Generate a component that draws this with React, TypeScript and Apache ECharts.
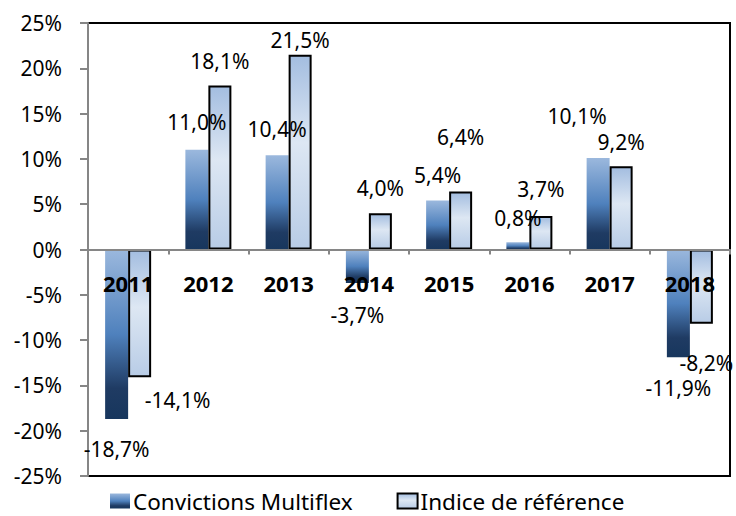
import React, { useEffect, useRef } from 'react';
import * as echarts from 'echarts';

const categories = ['2011', '2012', '2013', '2014', '2015', '2016', '2017', '2018'];
const fundValues = [-18.7, 11.0, 10.4, -3.7, 5.4, 0.8, 10.1, -11.9];
const indexValues = [-14.1, 18.1, 21.5, 4.0, 6.4, 3.7, 9.2, -8.2];
const seriesNames = ['Convictions Multiflex', 'Indice de référence'];
const yTicks = { min: -25, max: 25, interval: 5 };

// label nudges (styling only)
const fundLabelOffsets = [[0, 15], [0, -12], [0, -11], [0, 16], [0, -10], [0, -9], [-21, -26], [0, 15]];
const indexLabelOffsets = [[38, 7], [0, -9], [0, 1], [0, -10], [0, -39], [0, -11], [0, -9], [5, 24]];

const FONT = 'Noto Sans';
const fmt = (v: number) => v.toFixed(1).replace('.', ',') + '%';

export default function App() {
  const ref = useRef<HTMLDivElement>(null);
  useEffect(() => {
    if (!ref.current) return;
    const chart = echarts.init(ref.current, undefined, { renderer: 'svg' });
    const darkGrad = new echarts.graphic.LinearGradient(0, 0, 0, 1, [
      { offset: 0, color: '#9bb8dd' },
      { offset: 0.5, color: '#4f81bd' },
      { offset: 0.82, color: '#1f3b63' },
      { offset: 1, color: '#17365d' },
    ]);
    const lightGrad = new echarts.graphic.LinearGradient(0, 0, 0, 1, [
      { offset: 0, color: '#a3bde0' },
      { offset: 0.45, color: '#dde7f3' },
      { offset: 1, color: '#b8cce6' },
    ]);
    const mk = (vals: number[], offs: number[][]) =>
      vals.map((v, i) => ({
        value: v,
        label: { position: v < 0 ? 'bottom' : 'top', offset: offs[i] },
      }));
    const labelStyle = {
      show: true,
      formatter: (p: any) => fmt(p.value),
      fontFamily: FONT,
      fontSize: 21,
      color: '#000',
    };
    const gridTop = 23;
    const gridBottom = 40;
    const plotH = 516 - gridTop - gridBottom;
    const zeroFromBottom = (plotH * (0 - yTicks.min)) / (yTicks.max - yTicks.min);
    chart.setOption({
      animation: false,
      backgroundColor: '#fff',
      grid: {
        left: 88,
        right: 6,
        top: gridTop,
        bottom: gridBottom,
        show: true,
        borderColor: '#000',
        borderWidth: 2,
        backgroundColor: 'transparent',
      },
      legend: {
        top: 489,
        left: 110,
        padding: 0,
        itemWidth: 20,
        itemHeight: 15,
        itemGap: 44,
        icon: 'rect',
        textStyle: {
          fontFamily: FONT,
          fontSize: 22.5,
          lineHeight: 24,
          color: '#000',
          padding: [0, 0, 0, -2],
        },
        data: seriesNames,
      },
      xAxis: {
        type: 'category',
        data: categories,
        z: 10,
        position: 'bottom',
        offset: -zeroFromBottom,
        axisLine: { onZero: false, lineStyle: { color: '#868686', width: 2 } },
        axisTick: { show: true, length: 5, lineStyle: { color: '#868686', width: 2 } },
        axisLabel: {
          margin: 22,
          fontFamily: FONT,
          fontSize: 22,
          fontWeight: 'bold',
          color: '#000',
        },
      },
      yAxis: {
        type: 'value',
        min: yTicks.min,
        max: yTicks.max,
        interval: yTicks.interval,
        splitLine: { show: false },
        axisLine: { show: true, lineStyle: { color: '#868686', width: 2 } },
        axisTick: { show: true, length: 8, lineStyle: { color: '#868686', width: 2 } },
        axisLabel: {
          margin: 26,
          fontFamily: FONT,
          fontSize: 21,
          color: '#000',
          formatter: (v: number) => `${v}%`,
        },
      },
      series: [
        {
          name: seriesNames[0],
          type: 'bar',
          barWidth: 23,
          barGap: '0%',
          data: mk(fundValues, fundLabelOffsets),
          itemStyle: { color: darkGrad },
          label: labelStyle,
        },
        {
          name: seriesNames[1],
          type: 'bar',
          barWidth: 23,
          barGap: '0%',
          data: mk(indexValues, indexLabelOffsets),
          itemStyle: { color: lightGrad, borderColor: '#000', borderWidth: 2 },
          label: labelStyle,
        },
      ],
    });
    return () => chart.dispose();
  }, []);
  return (
    <div
      ref={ref}
      style={{ position: 'fixed', left: 0, top: 0, width: 736, height: 516, background: '#fff' }}
    />
  );
}
